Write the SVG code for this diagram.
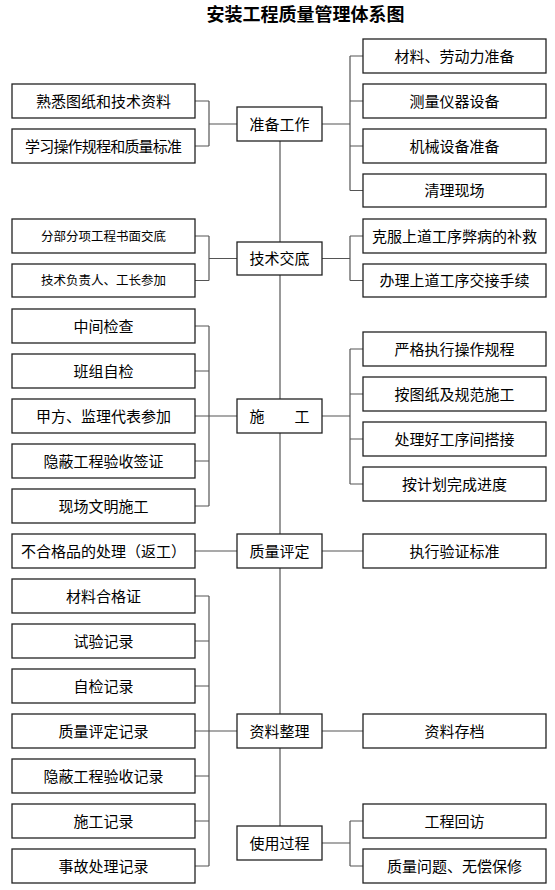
<svg xmlns="http://www.w3.org/2000/svg" width="555" height="890" viewBox="0 0 555 890">
<style>
.b{fill:#fff;stroke:#222;stroke-width:1.3}
.t{font-family:"Noto Sans CJK SC","Noto Sans",sans-serif;font-size:15px;fill:#000;text-anchor:middle}
.s{font-size:12.5px}
.c{fill:none;stroke:#555;stroke-width:1.2}
.title{font-family:"Noto Sans CJK SC",sans-serif;font-size:18px;font-weight:bold;text-anchor:middle;fill:#000}
</style>
<rect width="555" height="890" fill="#fff"/>
<text class="title" x="305.5" y="21">安装工程质量管理体系图</text>
<g id="connectors" class="c">
<path d="M280,141V826"/>
<path d="M195,101H209M195,146H209M209,101V146M209,124H237M322,124H350M350,56V190.5M350,56H363M350,101H363M350,146H363M350,190.5H363"/>
<path d="M195,236H209M195,280.5H209M209,236V280.5M209,258.5H237M322,258.5H350M350,236V280.5M350,236H363M350,280.5H363"/>
<path d="M195,326H209M195,371H209M195,416H209M195,461H209M195,506H209M209,326V506M209,416H237M322,416H350M350,349V484M350,349H363M350,394H363M350,439H363M350,484H363"/>
<path d="M195,551H237M322,551H363"/>
<path d="M195,596H209M195,641H209M195,686H209M195,731H209M195,776H209M195,821H209M195,866H209M209,596V866M209,731H237M322,731H363"/>
<path d="M322,843H350M350,821V866M350,821H363M350,866H363"/>
</g>
<g id="n1"><rect class="b" x="237" y="107" width="85" height="34"/><text class="t" x="279.5" y="129.5">准备工作</text></g>
<g id="n2"><rect class="b" x="12" y="84" width="183" height="34"/><text class="t" x="103.5" y="106.5">熟悉图纸和技术资料</text></g>
<g id="n3"><rect class="b" x="12" y="129" width="183" height="34"/><text class="t" x="103.5" y="151.5" textLength="157" lengthAdjust="spacing">学习操作规程和质量标准</text></g>
<g id="n4"><rect class="b" x="363" y="39" width="183" height="34"/><text class="t" x="454.5" y="61.5">材料、劳动力准备</text></g>
<g id="n5"><rect class="b" x="363" y="84" width="183" height="34"/><text class="t" x="454.5" y="106.5">测量仪器设备</text></g>
<g id="n6"><rect class="b" x="363" y="129" width="183" height="34"/><text class="t" x="454.5" y="151.5">机械设备准备</text></g>
<g id="n7"><rect class="b" x="363" y="174" width="183" height="33"/><text class="t" x="454.5" y="196">清理现场</text></g>
<g id="n8"><rect class="b" x="237" y="242" width="85" height="33"/><text class="t" x="279.5" y="264">技术交底</text></g>
<g id="n9"><rect class="b" x="12" y="219" width="183" height="34"/><text class="t s" x="103.5" y="240.5">分部分项工程书面交底</text></g>
<g id="n10"><rect class="b" x="12" y="264" width="183" height="33"/><text class="t s" x="103.5" y="285">技术负责人、工长参加</text></g>
<g id="n11"><rect class="b" x="363" y="219" width="183" height="34"/><text class="t" x="454.5" y="241.5">克服上道工序弊病的补救</text></g>
<g id="n12"><rect class="b" x="363" y="264" width="183" height="33"/><text class="t" x="454.5" y="286">办理上道工序交接手续</text></g>
<g id="n13"><rect class="b" x="237" y="399" width="85" height="34"/><text class="t" x="279.5" y="421.5">施　　工</text></g>
<g id="n14"><rect class="b" x="12" y="309" width="183" height="34"/><text class="t" x="103.5" y="331.5">中间检查</text></g>
<g id="n15"><rect class="b" x="12" y="354" width="183" height="34"/><text class="t" x="103.5" y="376.5">班组自检</text></g>
<g id="n16"><rect class="b" x="12" y="399" width="183" height="34"/><text class="t" x="103.5" y="421.5">甲方、监理代表参加</text></g>
<g id="n17"><rect class="b" x="12" y="444" width="183" height="34"/><text class="t" x="103.5" y="466.5">隐蔽工程验收签证</text></g>
<g id="n18"><rect class="b" x="12" y="489" width="183" height="34"/><text class="t" x="103.5" y="511.5">现场文明施工</text></g>
<g id="n19"><rect class="b" x="363" y="332" width="183" height="34"/><text class="t" x="454.5" y="354.5">严格执行操作规程</text></g>
<g id="n20"><rect class="b" x="363" y="377" width="183" height="34"/><text class="t" x="454.5" y="399.5">按图纸及规范施工</text></g>
<g id="n21"><rect class="b" x="363" y="422" width="183" height="34"/><text class="t" x="454.5" y="444.5">处理好工序间搭接</text></g>
<g id="n22"><rect class="b" x="363" y="467" width="183" height="34"/><text class="t" x="454.5" y="489.5">按计划完成进度</text></g>
<g id="n23"><rect class="b" x="237" y="534" width="85" height="34"/><text class="t" x="279.5" y="556.5">质量评定</text></g>
<g id="n24"><rect class="b" x="12" y="534" width="183" height="34"/><text class="t" x="103.5" y="556.5">不合格品的处理（返工）</text></g>
<g id="n25"><rect class="b" x="363" y="534" width="183" height="34"/><text class="t" x="454.5" y="556.5">执行验证标准</text></g>
<g id="n26"><rect class="b" x="237" y="714" width="85" height="34"/><text class="t" x="279.5" y="736.5">资料整理</text></g>
<g id="n27"><rect class="b" x="12" y="579" width="183" height="34"/><text class="t" x="103.5" y="601.5">材料合格证</text></g>
<g id="n28"><rect class="b" x="12" y="624" width="183" height="34"/><text class="t" x="103.5" y="646.5">试验记录</text></g>
<g id="n29"><rect class="b" x="12" y="669" width="183" height="34"/><text class="t" x="103.5" y="691.5">自检记录</text></g>
<g id="n30"><rect class="b" x="12" y="714" width="183" height="34"/><text class="t" x="103.5" y="736.5">质量评定记录</text></g>
<g id="n31"><rect class="b" x="12" y="759" width="183" height="34"/><text class="t" x="103.5" y="781.5">隐蔽工程验收记录</text></g>
<g id="n32"><rect class="b" x="12" y="804" width="183" height="34"/><text class="t" x="103.5" y="826.5">施工记录</text></g>
<g id="n33"><rect class="b" x="12" y="849" width="183" height="34"/><text class="t" x="103.5" y="871.5">事故处理记录</text></g>
<g id="n34"><rect class="b" x="363" y="714" width="183" height="34"/><text class="t" x="454.5" y="736.5">资料存档</text></g>
<g id="n35"><rect class="b" x="237" y="826" width="85" height="34"/><text class="t" x="279.5" y="848.5">使用过程</text></g>
<g id="n36"><rect class="b" x="363" y="804" width="183" height="34"/><text class="t" x="454.5" y="826.5">工程回访</text></g>
<g id="n37"><rect class="b" x="363" y="849" width="183" height="34"/><text class="t" x="454.5" y="871.5">质量问题、无偿保修</text></g>
</svg>
